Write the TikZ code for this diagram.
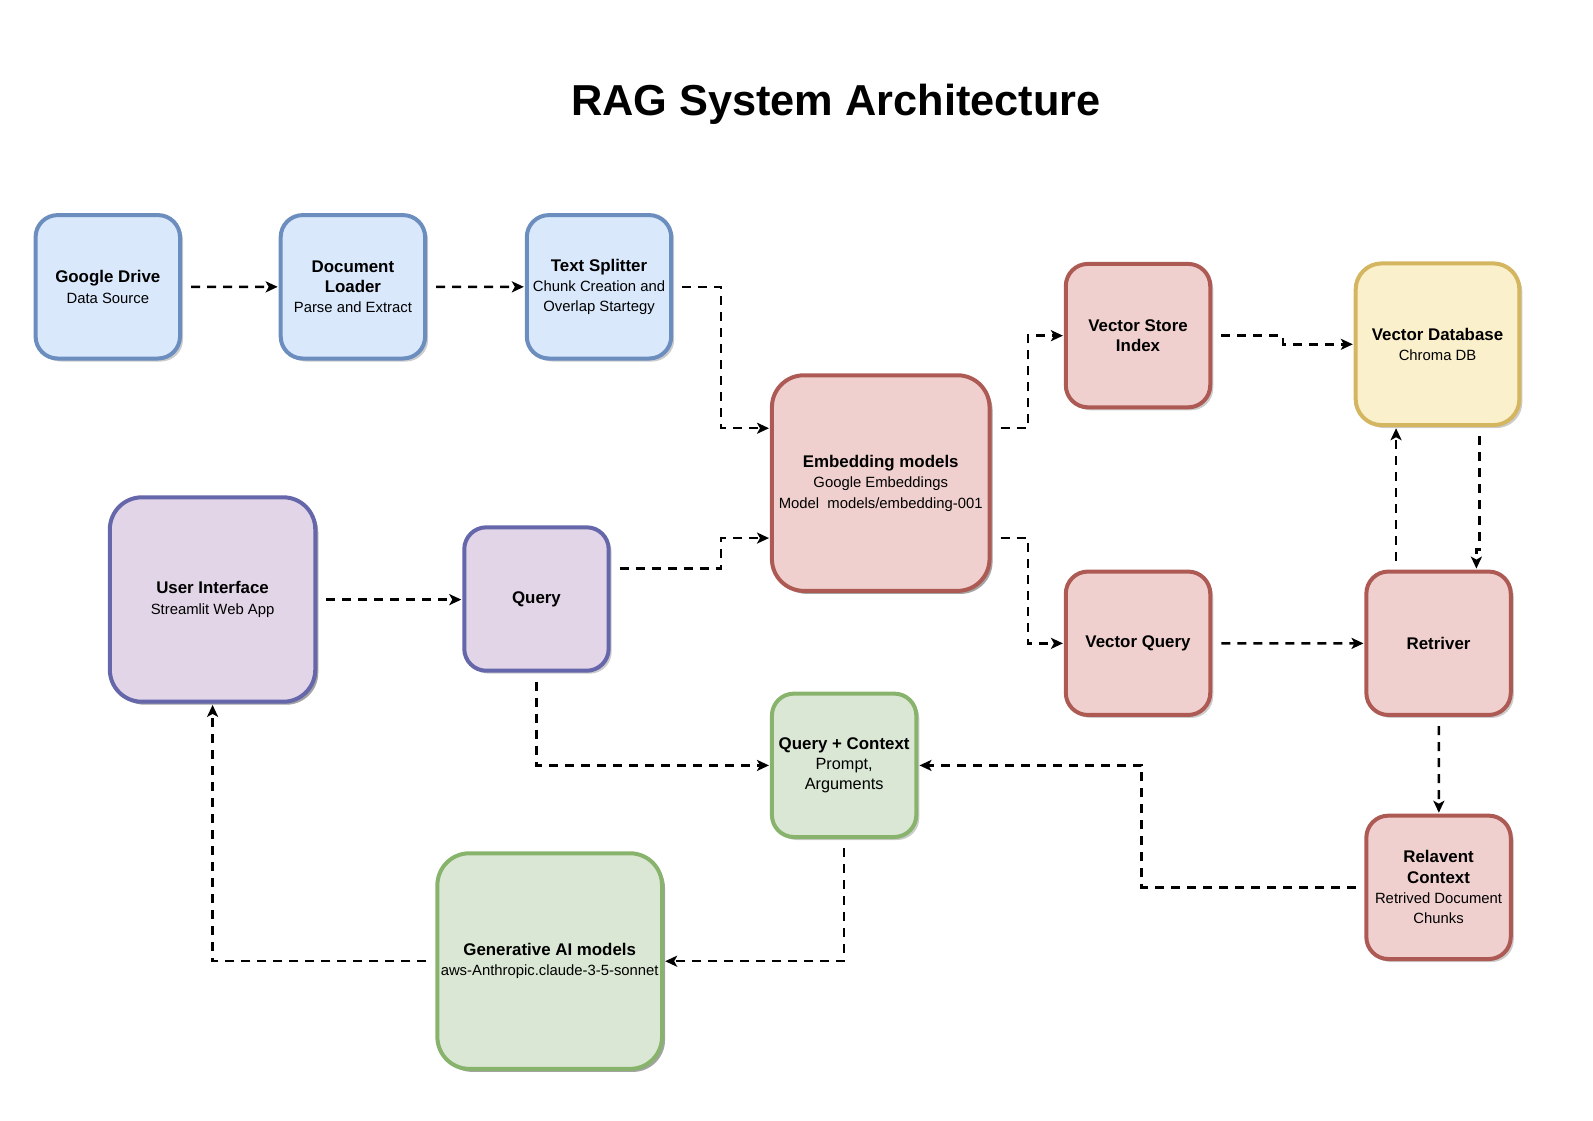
\documentclass[tikz,border=0pt]{standalone}
\usepackage{fontspec}
\setmainfont{Liberation Sans}
\usetikzlibrary{arrows.meta,shadows,calc}

\definecolor{bluefill}{HTML}{DAE8FC}
\definecolor{blueline}{HTML}{6C8EBF}
\definecolor{redfill}{HTML}{F0D0CE}
\definecolor{redline}{HTML}{AD5A55}
\definecolor{yellowfill}{HTML}{FBF0CC}
\definecolor{yellowline}{HTML}{D4B560}
\definecolor{purplefill}{HTML}{E1D5E7}
\definecolor{purpleline}{HTML}{6666AA}
\definecolor{greenfill}{HTML}{DAE7D4}
\definecolor{greenline}{HTML}{88B36C}

\newcommand{\hd}[1]{{\fontsize{16.6}{20}\selectfont\bfseries #1}}

\tikzset{
    box/.style={draw, line width=4pt, rounded corners=22pt, align=center,
        minimum width=142pt, minimum height=141pt,
        drop shadow={shadow xshift=3pt, shadow yshift=-3pt, opacity=0.2, fill=black},
        font=\fontsize{14.6}{20}\selectfont},
    bigbox/.style={box, rounded corners=32pt},
    bluebox/.style={box, draw=blueline, fill=bluefill},
    redbox/.style={box, draw=redline, fill=redfill},
    yellowbox/.style={box, draw=yellowline, fill=yellowfill},
    purplebox/.style={box, draw=purpleline, fill=purplefill},
    greenbox/.style={box, draw=greenline, fill=greenfill},
    flow/.style={-{Stealth[length=12pt, width=11pt, inset=3pt]}, line width=2.5pt,
        dash pattern=on 9pt off 7pt, shorten <=9pt, shorten >=1pt}
}

\begin{document}
\begin{tikzpicture}[x=1pt, y=-1pt, scale=1.017, transform shape]
        \useasboundingbox (0,0) rectangle (1566.37,1101.28);

        % Title
        \node[font=\fontsize{42.6}{50}\selectfont\bfseries] (title) at (822,103) {RAG System Architecture};

        % Ingestion boxes
        \node[bluebox] (gdrive) at (106,282) {\hd{Google Drive}\\Data Source};
        \node[bluebox] (loader) at (347,282) {\hd{Document}\\\hd{Loader}\\Parse and Extract};
        \node[bluebox] (splitter) at (589,282) {\hd{Text Splitter}\\Chunk Creation and\\Overlap Startegy};
        \node[redbox, bigbox, minimum width=214pt, minimum height=212pt] (embed) at (866,475)
            {\hd{Embedding models}\\Google Embeddings\\Model\ \ models/embedding-001};
        \node[redbox] (vstore) at (1119,330) {\hd{Vector Store}\\\hd{Index}};
        \node[yellowbox, rounded corners=26pt, minimum width=161pt, minimum height=159pt] (vdb) at (1413.5,338.5)
            {\hd{Vector Database}\\Chroma DB};

        % Query boxes
        \node[purplebox, bigbox, minimum width=202pt, minimum height=201pt] (ui) at (209,589.5)
            {\hd{User Interface}\\Streamlit Web App};
        \node[purplebox] (query) at (527.5,589) {\hd{Query}};
        \node[redbox] (vquery) at (1119,632.5) {\hd{Vector Query}};
        \node[redbox] (retriever) at (1414.5,632.5) {\hd{Retriver}};
        \node[greenbox] (qctx) at (830,752.5)
            {\hd{Query + Context}\\{\fontsize{16}{20}\selectfont Prompt,}\\{\fontsize{16}{20}\selectfont Arguments}};
        \node[redbox] (relctx) at (1414.5,872.5)
            {\hd{Relavent}\\\hd{Context}\\Retrived Document\\Chunks};
        \node[greenbox, bigbox, minimum width=213pt, minimum height=212pt] (genai) at (540.5,945)
            {\hd{Generative AI models}\\aws-Anthropic.claude-3-5-sonnet};

        % Ingestion flow
        \draw[flow] (gdrive) -- (loader);
        \draw[flow] (loader) -- (splitter);
        \draw[flow] (splitter.east) -| ([xshift=-48pt, yshift=54pt]embed.west) -- ([yshift=54pt]embed.west);
        \draw[flow] ([yshift=54pt]embed.east) -| ($([yshift=54pt]embed.east)!0.5!(vstore.west)$) |- (vstore.west);
        \draw[flow] (vstore.east) -| ($(vstore.east)!0.5!(vdb.west)$) |- (vdb.west);

        % Query flow
        \draw[flow] (ui.east) -- (ui.east -| query.west);
        \draw[flow] ([yshift=30pt]query.east) -| ([xshift=-48pt, yshift=-54pt]embed.west) -- ([yshift=-54pt]embed.west);
        \draw[flow] ([yshift=-54pt]embed.east) -| ($([yshift=-54pt]embed.east)!0.5!(vquery.west)$) |- (vquery.west);
        \draw[flow] (vquery) -- (retriever);
        \draw[flow] ([xshift=-42pt]retriever.north) -- ([xshift=-42pt]retriever.north |- vdb.south);
        \draw[flow] ([xshift=41pt]vdb.south) -- ++(0,120) -| ([xshift=37pt]retriever.north);
        \draw[flow] (retriever) -- (relctx);
        \draw[flow] (relctx.west) -| ($(relctx.west)!0.5!(qctx.east)$) |- (qctx.east);
        \draw[flow] (query.south) |- (qctx.west);
        \draw[flow] (qctx.south) |- (genai.east);
        \draw[flow] (genai.west) -| (ui.south);

    \end{tikzpicture}
\end{document}
